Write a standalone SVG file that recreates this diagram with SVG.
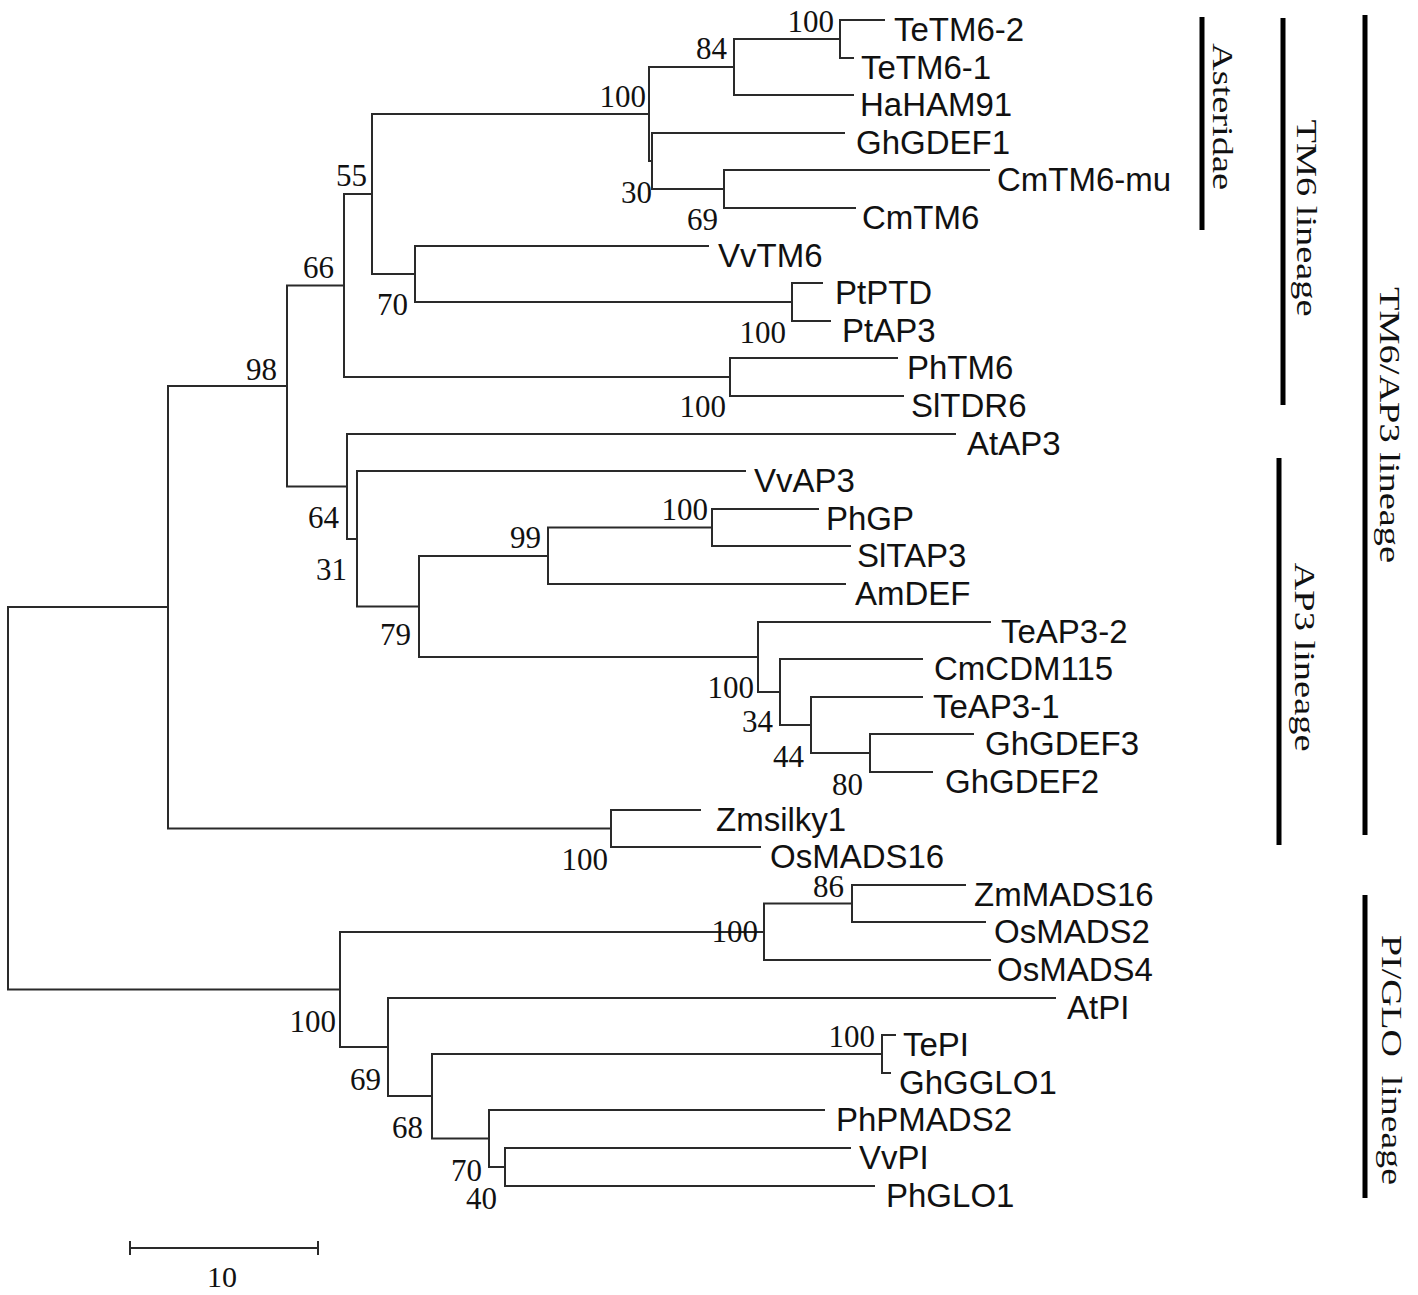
<svg xmlns="http://www.w3.org/2000/svg" width="1418" height="1295" viewBox="0 0 1418 1295">
<style>
.edge{fill:none;stroke:#2a2a2a;stroke-width:2;stroke-linecap:square}
.leaf{font-family:"Liberation Sans",Arial,sans-serif;font-size:33px;fill:#111}
.bs{font-family:"Liberation Serif","Times New Roman",serif;font-size:31px;fill:#111;text-anchor:end}
.clade{font-family:"Liberation Serif","Times New Roman",serif;font-size:30px;fill:#111;text-anchor:middle}
.bar{stroke:#000;stroke-width:5;fill:none}
</style>
<rect width="1418" height="1295" fill="#fff"/>
<g id="connectors">
<path class="edge" d="M340 989.5H8V607H168"/>
<path class="edge" d="M287 386H168V828.5H611"/>
<path class="edge" d="M344 285.5H287V486.5H347"/>
<path class="edge" d="M372 194H344V377H730"/>
<path class="edge" d="M649 114H372V274H415"/>
<path class="edge" d="M734 67H649V161H652"/>
<path class="edge" d="M840 39H734V95H853"/>
<path class="edge" d="M884 20H840V58H853"/>
<path class="edge" d="M844 133H652V189H724"/>
<path class="edge" d="M989 170H724V208H855"/>
<path class="edge" d="M708 246H415V302H792"/>
<path class="edge" d="M822 283H792V321H830"/>
<path class="edge" d="M897 358H730V396H903"/>
<path class="edge" d="M955 434H347V539H357"/>
<path class="edge" d="M745 471H357V606.5H419"/>
<path class="edge" d="M548 556H419V657H758"/>
<path class="edge" d="M712 527.5H548V584H845"/>
<path class="edge" d="M818 509H712V546H850"/>
<path class="edge" d="M990 622H758V692H780"/>
<path class="edge" d="M922 659H780V725H811"/>
<path class="edge" d="M922 697H811V753H870"/>
<path class="edge" d="M973 734H870V772H932"/>
<path class="edge" d="M700 810H611V847H760"/>
<path class="edge" d="M764 932H340V1047H388"/>
<path class="edge" d="M852 903.5H764V960H990"/>
<path class="edge" d="M965 885H852V922H985"/>
<path class="edge" d="M1055 998H388V1096H432"/>
<path class="edge" d="M882 1054H432V1138.5H489"/>
<path class="edge" d="M895 1035H882V1073H890"/>
<path class="edge" d="M824 1110H489V1167H505"/>
<path class="edge" d="M850 1148H505V1186H874"/>
</g>
<g id="leaves">
<g id="leaf-TeTM6-2"><text class="leaf" x="894" y="41">TeTM6-2</text></g>
<g id="leaf-TeTM6-1"><text class="leaf" x="861" y="79">TeTM6-1</text></g>
<g id="leaf-HaHAM91"><text class="leaf" x="860" y="116">HaHAM91</text></g>
<g id="leaf-GhGDEF1"><text class="leaf" x="856" y="154">GhGDEF1</text></g>
<g id="leaf-CmTM6-mu"><text class="leaf" x="997" y="191">CmTM6-mu</text></g>
<g id="leaf-CmTM6"><text class="leaf" x="862" y="229">CmTM6</text></g>
<g id="leaf-VvTM6"><text class="leaf" x="718" y="267">VvTM6</text></g>
<g id="leaf-PtPTD"><text class="leaf" x="835" y="304">PtPTD</text></g>
<g id="leaf-PtAP3"><text class="leaf" x="842" y="342">PtAP3</text></g>
<g id="leaf-PhTM6"><text class="leaf" x="907" y="379">PhTM6</text></g>
<g id="leaf-SlTDR6"><text class="leaf" x="911" y="417">SlTDR6</text></g>
<g id="leaf-AtAP3"><text class="leaf" x="967" y="455">AtAP3</text></g>
<g id="leaf-VvAP3"><text class="leaf" x="754" y="492">VvAP3</text></g>
<g id="leaf-PhGP"><text class="leaf" x="826" y="530">PhGP</text></g>
<g id="leaf-SlTAP3"><text class="leaf" x="857" y="567">SlTAP3</text></g>
<g id="leaf-AmDEF"><text class="leaf" x="855" y="605">AmDEF</text></g>
<g id="leaf-TeAP3-2"><text class="leaf" x="1001" y="643">TeAP3-2</text></g>
<g id="leaf-CmCDM115"><text class="leaf" x="934" y="680">CmCDM115</text></g>
<g id="leaf-TeAP3-1"><text class="leaf" x="933" y="718">TeAP3-1</text></g>
<g id="leaf-GhGDEF3"><text class="leaf" x="985" y="755">GhGDEF3</text></g>
<g id="leaf-GhGDEF2"><text class="leaf" x="945" y="793">GhGDEF2</text></g>
<g id="leaf-Zmsilky1"><text class="leaf" x="716" y="831">Zmsilky1</text></g>
<g id="leaf-OsMADS16"><text class="leaf" x="770" y="868">OsMADS16</text></g>
<g id="leaf-ZmMADS16"><text class="leaf" x="974" y="906">ZmMADS16</text></g>
<g id="leaf-OsMADS2"><text class="leaf" x="994" y="943">OsMADS2</text></g>
<g id="leaf-OsMADS4"><text class="leaf" x="997" y="981">OsMADS4</text></g>
<g id="leaf-AtPI"><text class="leaf" x="1067" y="1019">AtPI</text></g>
<g id="leaf-TePI"><text class="leaf" x="903" y="1056">TePI</text></g>
<g id="leaf-GhGGLO1"><text class="leaf" x="899" y="1094">GhGGLO1</text></g>
<g id="leaf-PhPMADS2"><text class="leaf" x="836" y="1131">PhPMADS2</text></g>
<g id="leaf-VvPI"><text class="leaf" x="859" y="1169">VvPI</text></g>
<g id="leaf-PhGLO1"><text class="leaf" x="886" y="1207">PhGLO1</text></g>
</g>
<g id="bootstrap">
<g id="node-A"><text class="bs" x="834" y="32">100</text></g>
<g id="node-B"><text class="bs" x="727" y="59">84</text></g>
<g id="node-D"><text class="bs" x="646" y="107">100</text></g>
<g id="node-C"><text class="bs" x="652" y="203">30</text></g>
<g id="node-Cm"><text class="bs" x="718" y="230">69</text></g>
<g id="node-E"><text class="bs" x="367" y="186">55</text></g>
<g id="node-G"><text class="bs" x="334" y="278">66</text></g>
<g id="node-F"><text class="bs" x="408" y="315">70</text></g>
<g id="node-Pt"><text class="bs" x="786" y="343">100</text></g>
<g id="node-Ph"><text class="bs" x="726" y="417">100</text></g>
<g id="node-H"><text class="bs" x="277" y="380">98</text></g>
<g id="node-I"><text class="bs" x="339" y="528">64</text></g>
<g id="node-J"><text class="bs" x="347" y="580">31</text></g>
<g id="node-L"><text class="bs" x="541" y="548">99</text></g>
<g id="node-N"><text class="bs" x="708" y="520">100</text></g>
<g id="node-K"><text class="bs" x="411" y="645">79</text></g>
<g id="node-M"><text class="bs" x="754" y="698">100</text></g>
<g id="node-O"><text class="bs" x="773" y="732">34</text></g>
<g id="node-P"><text class="bs" x="804" y="767">44</text></g>
<g id="node-Q"><text class="bs" x="863" y="795">80</text></g>
<g id="node-R"><text class="bs" x="608" y="870">100</text></g>
<g id="node-W"><text class="bs" x="844" y="897">86</text></g>
<g id="node-U"><text class="bs" x="758" y="942">100</text></g>
<g id="node-T"><text class="bs" x="336" y="1032">100</text></g>
<g id="node-V"><text class="bs" x="381" y="1090">69</text></g>
<g id="node-Y"><text class="bs" x="875" y="1047">100</text></g>
<g id="node-X"><text class="bs" x="423" y="1138">68</text></g>
<g id="node-Z"><text class="bs" x="482" y="1181">70</text></g>
<g id="node-Z2"><text class="bs" x="497" y="1209">40</text></g>
</g>
<g id="clades">
<g id="clade-asteridae"><line class="bar" x1="1202" y1="17" x2="1202" y2="230"/><text class="clade" transform="translate(1213,116.5) rotate(90)" textLength="147" lengthAdjust="spacingAndGlyphs">Asteridae</text></g>
<g id="clade-tm6"><line class="bar" x1="1283" y1="18" x2="1283" y2="405"/><text class="clade" transform="translate(1297,218) rotate(90)" textLength="197" lengthAdjust="spacingAndGlyphs">TM6 lineage</text></g>
<g id="clade-tm6ap3"><line class="bar" x1="1365" y1="15" x2="1365" y2="835"/><text class="clade" transform="translate(1380,425) rotate(90)" textLength="276" lengthAdjust="spacingAndGlyphs">TM6/AP3 lineage</text></g>
<g id="clade-ap3"><line class="bar" x1="1279" y1="458" x2="1279" y2="845"/><text class="clade" transform="translate(1295,657) rotate(90)" textLength="189" lengthAdjust="spacingAndGlyphs">AP3 lineage</text></g>
<g id="clade-piglo"><line class="bar" x1="1365" y1="895" x2="1365" y2="1198"/><text class="clade" transform="translate(1382,1060) rotate(90)" textLength="250" lengthAdjust="spacingAndGlyphs" xml:space="preserve">PI/GLO  lineage</text></g>
</g>
<g id="scale">
<path class="edge" d="M130 1248H318M130 1242V1254M318 1242V1254"/>
<text class="clade" x="222" y="1287">10</text>
</g>
</svg>
